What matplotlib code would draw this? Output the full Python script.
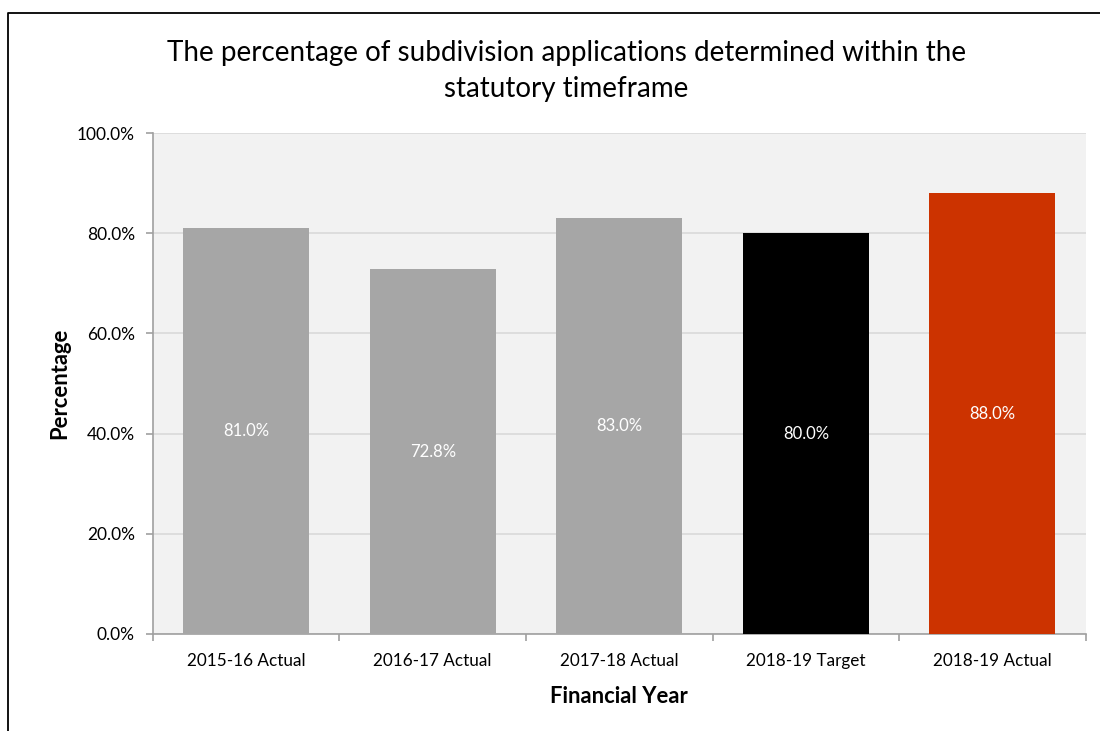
import matplotlib
matplotlib.use("Agg")
import matplotlib.pyplot as plt
from matplotlib.lines import Line2D
from matplotlib.ticker import PercentFormatter

plt.rcParams["font.family"] = ["Lato", "DejaVu Sans"]

categories = ["2015-16 Actual", "2016-17 Actual", "2017-18 Actual",
              "2018-19 Target", "2018-19 Actual"]
values = [81.0, 72.8, 83.0, 80.0, 88.0]
bar_colors = ["#a6a6a6", "#a6a6a6", "#a6a6a6", "#000000", "#cc3300"]
y_ticks = [0, 20, 40, 60, 80, 100]

fig = plt.figure(figsize=(11, 7.31), dpi=100)
ax = fig.add_axes([0.139, 0.1327, 0.848, 0.6853])

x = range(len(categories))
ax.bar(x, values, width=0.676, color=bar_colors, zorder=3)
for xi, v in zip(x, values):
    ax.text(xi, v / 2, f"{v:.1f}%", ha="center", va="center",
            color="white", fontsize=12, zorder=4)

ax.set_facecolor("#f2f2f2")
ax.set_xlim(-0.5, len(categories) - 0.5)
ax.set_ylim(0, 100)
ax.set_yticks(y_ticks)
ax.yaxis.set_major_formatter(PercentFormatter(decimals=1))
ax.grid(axis="y", color="#d9d9d9", linewidth=1.2, zorder=0)

# category ticks sit on the boundaries between bars
ax.set_xticks(list(x))
ax.set_xticklabels(categories)
ax.set_xticks([i - 0.5 for i in range(len(categories) + 1)], minor=True)
ax.tick_params(axis="x", which="major", length=0, pad=14, labelsize=12.3)
ax.tick_params(axis="x", which="minor", length=5, color="#a0a0a0", width=1.2)
ax.tick_params(axis="y", length=5, color="#a0a0a0", width=1.2,
               labelsize=12.5, pad=8)

for side in ("top", "right"):
    ax.spines[side].set_visible(False)
for side in ("left", "bottom"):
    ax.spines[side].set_color("#a0a0a0")
    ax.spines[side].set_linewidth(1.2)

ax.set_xlabel("Financial Year", fontsize=15.8, fontweight="bold", labelpad=12)
ax.set_ylabel("Percentage", fontsize=15.8, fontweight="bold", labelpad=5)

fig.text(0.515, 0.903,
         "The percentage of subdivision applications determined within the\n"
         "statutory timeframe",
         ha="center", va="center", fontsize=20, linespacing=1.5)

# open frame around the chart: left and top edges only
fig.add_artist(Line2D([0.0075, 0.0075, 1.0], [0.0, 0.9825, 0.9825],
                      transform=fig.transFigure, color="black", linewidth=1.3))

fig.savefig("out.png", dpi=100)
